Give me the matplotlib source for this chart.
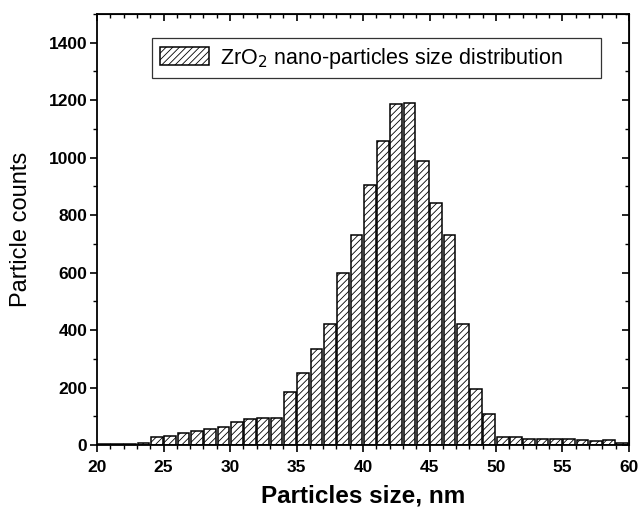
import numpy as np
import matplotlib.pyplot as plt
from matplotlib.ticker import MultipleLocator

plt.rcParams['font.family'] = ['Liberation Sans', 'DejaVu Sans']
plt.rcParams['hatch.linewidth'] = 0.6
plt.rcParams['hatch.color'] = '#333333'

# particle size bins (nm, left edge) and counts
sizes = np.arange(20, 60)
counts = [2, 2, 2, 6, 28, 32, 42, 48, 56, 63,
          80, 90, 93, 95, 185, 250, 335, 421, 600, 731,
          905, 1057, 1186, 1190, 989, 842, 732, 421, 195, 109,
          27, 27, 21, 22, 21, 21, 17, 14, 16, 6]

fig = plt.figure(figsize=(6.4, 5.12), dpi=100)
ax = fig.add_axes([0.1516, 0.1309, 0.8312, 0.8418])

ax.bar(sizes + 0.5, counts, width=0.88, color='white', edgecolor='black',
       linewidth=1.1, hatch='/////', label='ZrO$_2$ nano-particles size distribution')

ax.set_xlim(20, 60)
ax.set_ylim(0, 1500)
ax.xaxis.set_major_locator(MultipleLocator(5))
ax.xaxis.set_minor_locator(MultipleLocator(1))
ax.yaxis.set_minor_locator(MultipleLocator(100))
ax.set_yticks([0, 200, 400, 600, 800, 1000, 1200, 1400])

for s in ax.spines.values():
    s.set_linewidth(1.3)

ax.tick_params(which='major', direction='out', length=5, width=1.2,
               labelsize=12.5, pad=2)
ax.tick_params(axis='x', which='major', pad=6)
ax.tick_params(which='minor', direction='out', length=3, width=1.0)
for lab in ax.get_xticklabels() + ax.get_yticklabels():
    lab.set_fontweight('bold')

# inward ticks on top and right
top = ax.secondary_xaxis('top')
top.xaxis.set_major_locator(MultipleLocator(5))
top.xaxis.set_minor_locator(MultipleLocator(1))
top.tick_params(which='major', direction='in', length=5, width=1.2, labeltop=False)
top.tick_params(which='minor', direction='in', length=3, width=1.0)
right = ax.secondary_yaxis('right')
right.yaxis.set_major_locator(MultipleLocator(200))
right.yaxis.set_minor_locator(MultipleLocator(100))
right.tick_params(which='major', direction='in', length=5, width=1.2, labelright=False)
right.tick_params(which='minor', direction='in', length=3, width=1.0)

ax.set_xlabel('Particles size, nm', fontsize=17.5, fontweight='bold', labelpad=7)
ax.set_ylabel('Particle counts', fontsize=17, labelpad=12)

leg = ax.legend(loc='upper left', bbox_to_anchor=(0.1036, 0.944, 0.8437, 0.0),
                mode='expand', borderaxespad=0, fontsize=15.5,
                frameon=True, fancybox=False, edgecolor='black',
                handlelength=2.3, handleheight=0.9, borderpad=0.35, handletextpad=0.5)
leg.get_frame().set_linewidth(0.9)

fig.savefig('out.png', dpi=100)
